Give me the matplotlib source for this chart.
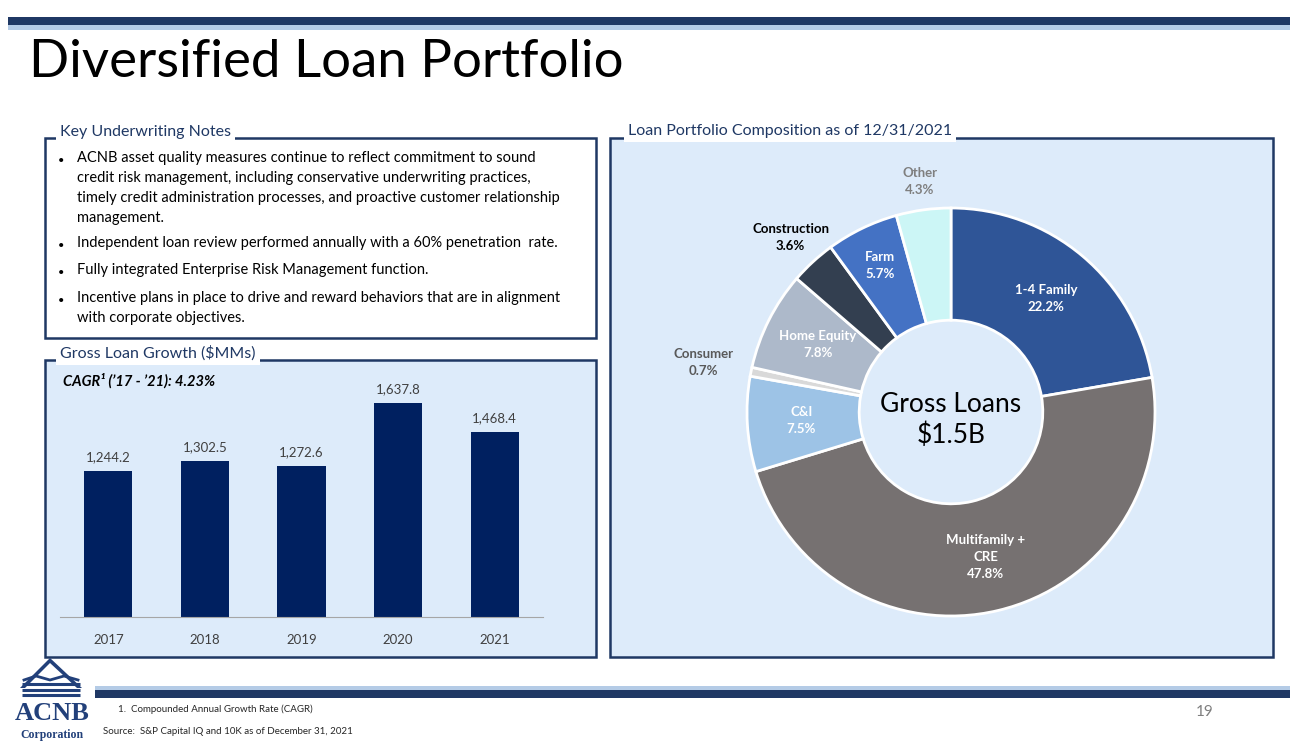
import matplotlib
matplotlib.use("Agg")
import matplotlib.pyplot as plt
from matplotlib.patches import Rectangle, Polygon
import numpy as np

plt.rcParams['font.family'] = ['Lato', 'DejaVu Sans']

# data
years = ['2017', '2018', '2019', '2020', '2021']
gross_loans = [1244.2, 1302.5, 1272.6, 1637.8, 1468.4]

segments = ['1-4 Family', 'Multifamily +\nCRE', 'C&I', 'Consumer', 'Home Equity',
            'Construction', 'Farm', 'Other']
shares = [22.2, 47.8, 7.5, 0.7, 7.8, 3.6, 5.7, 4.3]
seg_colors = ['#2F5597', '#767171', '#9DC3E6', '#D9D9D9', '#ADB9CA',
              '#333F50', '#4472C4', '#CCF6F6']
label_colors = ['white', 'white', 'white', '#595959', 'white', 'black', 'white', '#7F7F7F']
label_radius = [0.725, 0.73, 0.735, 1.24, 0.73, 1.16, 0.80, 1.14]

notes = [
    "ACNB asset quality measures continue to reflect commitment to sound\n"
    "credit risk management, including conservative underwriting practices,\n"
    "timely credit administration processes, and proactive customer relationship\n"
    "management.",
    "Independent loan review performed annually with a 60% penetration  rate.",
    "Fully integrated Enterprise Risk Management function.",
    "Incentive plans in place to drive and reward behaviors that are in alignment\n"
    "with corporate objectives.",
]
note_y = [160, 245, 272, 300]

NAVY = '#1F3864'
PANEL = '#DDEBFA'
W, H = 1300, 748

fig = plt.figure(figsize=(13, 7.48), dpi=100)

# background canvas in pixel coordinates
bg = fig.add_axes([0, 0, 1, 1])
bg.set_xlim(0, W)
bg.set_ylim(H, 0)
bg.axis('off')

# top and bottom rules
bg.add_patch(Rectangle((8, 17), 1282, 8, color='#1F3864', lw=0))
bg.add_patch(Rectangle((8, 25), 1282, 5, color='#B4CBE6', lw=0))
bg.add_patch(Rectangle((95, 686), 1195, 4, color='#B4CBE6', lw=0))
bg.add_patch(Rectangle((95, 690), 1195, 8, color='#1F3864', lw=0))

bg.text(29, 62, 'Diversified Loan Portfolio', fontsize=38, fontweight='normal',
        va='center', ha='left', color='black')

# panels
bg.add_patch(Rectangle((45, 138), 551, 200, facecolor='white', edgecolor=NAVY, lw=1.8))
bg.add_patch(Rectangle((45, 360), 551, 297, facecolor=PANEL, edgecolor=NAVY, lw=1.8))
bg.add_patch(Rectangle((610, 138), 663, 519, facecolor=PANEL, edgecolor=NAVY, lw=1.8))

for x, y, s in [(60, 132, 'Key Underwriting Notes'),
                (60, 353, 'Gross Loan Growth ($MMs)'),
                (628, 131, 'Loan Portfolio Composition as of 12/31/2021')]:
    bg.text(x, y, s, fontsize=11.5, color=NAVY, va='center', ha='left',
            bbox=dict(facecolor='white', edgecolor='none', pad=3))

for y, txt in zip(note_y, notes):
    bg.text(58, y, '\u2022', fontsize=8, va='center', ha='left', color='black')
    bg.text(77, y - 9, txt, fontsize=10.5, va='top', ha='left', color='black',
            linespacing=1.55)

bg.text(63, 381, "CAGR\u00b9 (\u201917 - \u201921): 4.23%", fontsize=10.5,
        fontweight='bold', fontstyle='italic', va='center', ha='left')

# footer
bg.text(118, 709, '1.  Compounded Annual Growth Rate (CAGR)', fontsize=7,
        va='center', color='#262626')
bg.text(103, 732, 'Source:  S&P Capital IQ and 10K as of December 31, 2021', fontsize=7,
        va='center', color='#262626')
bg.text(1205, 712, '19', fontsize=11, va='center', ha='center', color='#7F7F7F')

# logo
LOGO = '#22407A'
bg.add_patch(Polygon([[20, 688], [50, 658], [82, 688], [77, 688], [50, 663], [25, 688]],
                     closed=True, color=LOGO, lw=0))
for yy in (684, 690, 695):
    bg.plot([22, 80], [yy, yy], color=LOGO, lw=2.2, solid_capstyle='butt')
bg.plot([24, 36, 50, 64, 78], [680, 676, 680, 676, 680], color=LOGO, lw=2)
bg.text(52, 714, 'ACNB', fontsize=19, fontweight='bold', family='Liberation Serif',
        color=LOGO, ha='center', va='center')
bg.text(52, 735, 'Corporation', fontsize=8.5, fontweight='bold', family='Liberation Serif',
        color=LOGO, ha='center', va='center')

# bar chart
bx0, bx1, by0, by1 = 60, 543, 380, 617
ax = fig.add_axes([bx0 / W, 1 - by1 / H, (bx1 - bx0) / W, (by1 - by0) / H])
ax.set_facecolor('none')
x = np.arange(len(years))
bars = ax.bar(x, gross_loans, width=0.5, color='#002060')
ax.set_xlim(-0.5, len(years) - 0.5)
ax.set_ylim(400, 400 + (by1 - by0) / 0.1728)
ax.bar_label(bars, labels=[f'{v:,.1f}' for v in gross_loans], padding=6,
             fontsize=9.5, color='#404040')
ax.set_xticks(x)
ax.set_xticklabels(years, fontsize=9.5, color='#404040')
ax.tick_params(length=0, pad=12)
ax.set_yticks([])
for s in ['top', 'left', 'right']:
    ax.spines[s].set_visible(False)
ax.spines['bottom'].set_color('#A6A6A6')

# donut chart
cx, cy, r = 951, 412, 204
pax = fig.add_axes([(cx - r) / W, 1 - (cy + r) / H, 2 * r / W, 2 * r / H])
pax.set_facecolor('none')
wedges, _ = pax.pie(shares, colors=seg_colors, startangle=90, counterclock=False,
                    wedgeprops=dict(width=0.55, edgecolor='white', linewidth=2))
pax.set_xlim(-1, 1)
pax.set_ylim(-1, 1)
pax.set_aspect('equal')
pax.axis('off')

for w, name, val, col, rr in zip(wedges, segments, shares, label_colors, label_radius):
    ang = np.deg2rad((w.theta1 + w.theta2) / 2)
    pax.text(rr * np.cos(ang), rr * np.sin(ang), f'{name}\n{val}%', ha='center',
             va='center', fontsize=9.5, fontweight='bold', color=col, linespacing=1.5,
             clip_on=False)

pax.text(0, -0.04, 'Gross Loans\n$1.5B', ha='center', va='center', fontsize=19,
         color='black', linespacing=1.3)

fig.savefig('out.png', dpi=100)
